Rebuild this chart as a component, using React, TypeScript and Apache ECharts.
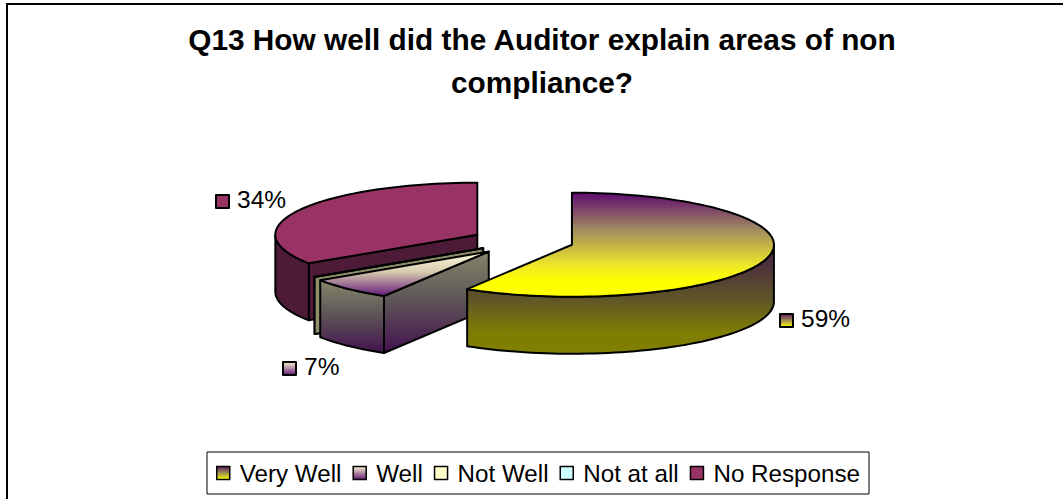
import React, { useEffect, useRef } from "react";
import * as echarts from "echarts";

const titleLines = ["Q13 How well did the Auditor explain areas of non", "compliance?"];
const categories = ["Very Well", "Well", "Not Well", "Not at all", "No Response"];
const percentValues = [59, 7, 0, 0, 34];

// Layout and style (not data)
const drawOrder = [4, 3, 2, 1, 0];
const FONT = "Liberation Sans, Arial, sans-serif";
const CX = 522, CY = 241, RX = 202, RY = 52, DEPTH = 57;
const explode = [52, 47, 46, 46, 51];
const nudgeY = [0, 2, 1, 1, 0];
const labelAt: Record<number, [number, number]> = { 0: [780, 320], 1: [283, 368], 4: [216, 201] };

const grad = (stops: [number, string][]) =>
  new echarts.graphic.LinearGradient(0, 0, 0, 1, stops.map(([offset, color]) => ({ offset, color })));

const topFill = [
  () => grad([[0, "#5f0a70"], [0.35, "#a08a60"], [0.7, "#eee828"], [0.85, "#ffff00"], [1, "#ffff00"]]),
  () => grad([[0, "#fdfbdc"], [0.45, "#d8cdb0"], [1, "#641a78"]]),
  () => "#ffffcc",
  () => "#ccffff",
  () => "#993366",
];
const wallFill = [
  () => grad([[0, "#421c48"], [0.5, "#5f5528"], [0.8, "#7f7d06"], [1, "#808000"]]),
  () => grad([[0, "#85856a"], [0.45, "#5f5858"], [1, "#43124f"]]),
  () => "#8f8f6a",
  () => "#668080",
  () => "#4d1a38",
];
const legendFill = [
  () => grad([[0, "#5f1a60"], [0.5, "#a09050"], [1, "#ffff00"]]),
  () => grad([[0, "#f8f4d0"], [1, "#641a78"]]),
  () => "#ffffcc",
  () => "#ccffff",
  () => "#993366",
];

const total = percentValues.reduce((a, b) => a + b, 0);
const rad = (d: number) => (d * Math.PI) / 180;
// The tilted view compresses angles slightly on the far side of the turn
const warp = (a: number) => a - 1.2 * Math.sin(rad(a / 2));

function sliceGeometry(i: number) {
  const before = percentValues.slice(0, i).reduce((a, b) => a + b, 0);
  const start = (before / total) * 360;
  const end = ((before + percentValues[i]) / total) * 360;
  const mid = rad((start + end) / 2);
  const cx = CX + Math.sin(mid) * explode[i];
  const cy = CY - Math.cos(mid) * explode[i] * (RY / RX) + nudgeY[i];
  const pt = (a: number, dy = 0): [number, number] => [
    cx + Math.sin(rad(warp(a))) * RX,
    cy - Math.cos(rad(warp(a))) * RY + dy,
  ];
  return { start, end, cx, cy, pt };
}

function arcPoints(pt: (a: number, dy?: number) => [number, number], a: number, b: number, dy = 0) {
  const n = Math.max(1, Math.ceil(Math.abs(b - a) / 2));
  const out: [number, number][] = [];
  for (let k = 0; k <= n; k++) out.push(pt(a + ((b - a) * k) / n, dy));
  return out;
}

function makeRenderItem(i: number) {
  return (_params: any, api: any) => {
    const value = api.value(0);
    const { start, end, cx, cy, pt } = sliceGeometry(i);
    const stroke = { stroke: "#000", lineWidth: 2, lineJoin: "round" as const };
    const children: any[] = [];

    // Radial wall on the start side when it faces the viewer
    if (Math.sin(rad(start)) < -1e-6) {
      const r = pt(start);
      children.push({
        type: "polygon",
        shape: { points: [[cx, cy], r, [r[0], r[1] + DEPTH], [cx, cy + DEPTH]] },
        style: { fill: wallFill[i](), ...stroke },
      });
    }
    // Outer rim wall, only the front half
    const a = Math.max(start, 90);
    const b = Math.min(end, 270);
    if (b > a) {
      const top = arcPoints(pt, a, b);
      const bottom = arcPoints(pt, b, a, DEPTH);
      children.push({
        type: "polygon",
        shape: { points: [...top, ...bottom] },
        style: { fill: wallFill[i](), ...stroke },
      });
    }
    // Top face
    children.push({
      type: "polygon",
      shape: { points: [[cx, cy], ...arcPoints(pt, start, end)] },
      style: { fill: topFill[i](), ...stroke },
    });
    // Data label with its key
    if (value > 0 && labelAt[i]) {
      const [lx, ly] = labelAt[i];
      children.push({
        type: "rect",
        shape: { x: lx, y: ly - 6, width: 13, height: 13 },
        style: { fill: legendFill[i](), ...stroke },
      });
      children.push({
        type: "text",
        x: lx + 21,
        y: ly - 2,
        style: {
          text: `${value}%`,
          font: `24.5px ${FONT}`,
          fill: "#000",
          verticalAlign: "middle",
          align: "left",
        },
      });
    }
    return { type: "group", children };
  };
}

export default function App() {
  const ref = useRef<HTMLDivElement>(null);
  useEffect(() => {
    document.body.style.margin = "0";
    const chart = echarts.init(ref.current!, undefined, { renderer: "svg" });
    chart.setOption({
      animation: false,
      backgroundColor: "#fff",
      title: {
        text: titleLines.join("\n"),
        left: 537,
        top: 13,
        textAlign: "center",
        textStyle: { fontFamily: FONT, fontSize: 29.8, fontWeight: "bold", color: "#000", lineHeight: 43 },
      },
      legend: {
        left: 207,
        top: 452,
        padding: [9, 9, 9, 9],
        itemWidth: 13,
        itemHeight: 13,
        itemGap: 11,
        borderColor: "#000",
        borderWidth: 1,
        backgroundColor: "#fff",
        selectedMode: false,
        textStyle: { fontFamily: FONT, fontSize: 24.2, color: "#000", padding: [0, 0, 0, 5] },
        data: categories.map((name, i) => ({
          name,
          icon: "rect",
          itemStyle: { color: legendFill[i](), borderColor: "#000", borderWidth: 1.5 },
        })),
      },
      graphic: [
        {
          type: "polyline",
          silent: true,
          shape: { points: [[7, 499], [7, 4], [1063, 4]] },
          style: { stroke: "#000", lineWidth: 2, fill: "none" },
        },
      ],
      series: drawOrder.map((i) => ({
        type: "custom",
        name: categories[i],
        coordinateSystem: "none",
        clip: false,
        silent: true,
        renderItem: makeRenderItem(i),
        data: [[percentValues[i]]],
      })),
    });
    return () => chart.dispose();
  }, []);
  return <div ref={ref} style={{ position: "absolute", left: 0, top: 0, width: 1063, height: 499 }} />;
}
